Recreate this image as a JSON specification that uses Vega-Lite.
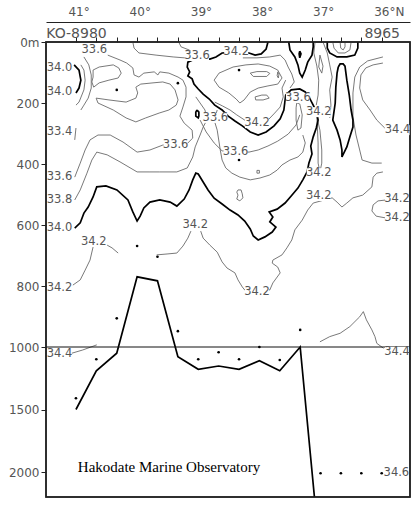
{
"$schema": "https://vega.github.io/schema/vega-lite/v6.json",
"width": 364, "height": 455,
"autosize": {"type": "none"},
"padding": {"left": 46, "top": 42, "right": 8, "bottom": 9},
"background": "white",
"config": {"view": {"stroke": "#222", "strokeWidth": 1.5}, "axis": {"labelFont": "DejaVu Sans", "labelFontSize": 12, "labelColor": "#555", "domainColor": "#222", "tickColor": "#222", "grid": false, "title": null}},
"resolve": {"axis": {"x": "independent"}},
"datasets": {
"thin": [
{"c":"T1","lat":41.02,"depth":443},{"c":"T1","lat":40.93,"depth":397},{"c":"T1","lat":40.85,"depth":354},{"c":"T1","lat":40.77,"depth":321},{"c":"T1","lat":40.64,"depth":305},{"c":"T1","lat":40.44,"depth":305},{"c":"T1","lat":40.23,"depth":328},{"c":"T1","lat":40.00,"depth":361},{"c":"T1","lat":39.79,"depth":354},{"c":"T1","lat":39.58,"depth":338},{"c":"T1","lat":39.17,"depth":331},{"c":"T1","lat":39.09,"depth":315},{"c":"T1","lat":39.10,"depth":289},{"c":"T1","lat":39.23,"depth":266},{"c":"T1","lat":39.30,"depth":243},{"c":"T1","lat":39.25,"depth":213},{"c":"T1","lat":39.20,"depth":180},{"c":"T1","lat":39.20,"depth":148},{"c":"T1","lat":39.25,"depth":125},{"c":"T1","lat":39.33,"depth":115},{"c":"T1","lat":39.48,"depth":102},{"c":"T1","lat":39.63,"depth":98},{"c":"T1","lat":39.66,"depth":108},{"c":"T1","lat":39.72,"depth":98},{"c":"T1","lat":39.89,"depth":102},{"c":"T1","lat":39.97,"depth":115},{"c":"T1","lat":40.05,"depth":108},{"c":"T1","lat":40.07,"depth":85},{"c":"T1","lat":40.17,"depth":69},{"c":"T1","lat":40.28,"depth":59},{"c":"T1","lat":40.48,"depth":43},
{"c":"T2","lat":41.02,"depth":518},{"c":"T2","lat":40.93,"depth":485},{"c":"T2","lat":40.82,"depth":430},{"c":"T2","lat":40.74,"depth":387},{"c":"T2","lat":40.66,"depth":361},{"c":"T2","lat":40.49,"depth":370},{"c":"T2","lat":40.28,"depth":393},{"c":"T2","lat":40.00,"depth":426},{"c":"T2","lat":39.79,"depth":426},{"c":"T2","lat":39.63,"depth":426},{"c":"T2","lat":39.35,"depth":426},{"c":"T2","lat":39.18,"depth":413},{"c":"T2","lat":39.09,"depth":377},{"c":"T2","lat":39.05,"depth":344},{"c":"T2","lat":38.97,"depth":305},{"c":"T2","lat":38.92,"depth":279},{"c":"T2","lat":38.86,"depth":256},{"c":"T2","lat":38.89,"depth":223},{"c":"T2","lat":38.97,"depth":200},{"c":"T2","lat":39.04,"depth":180},
{"c":"T3","lat":40.07,"depth":0},{"c":"T3","lat":40.05,"depth":20},{"c":"T3","lat":39.97,"depth":36},{"c":"T3","lat":39.69,"depth":43},{"c":"T3","lat":39.41,"depth":49},{"c":"T3","lat":39.22,"depth":52},
{"c":"T3b","lat":39.32,"depth":0},{"c":"T3b","lat":39.28,"depth":16},{"c":"T3b","lat":39.15,"depth":26},{"c":"T3b","lat":39.09,"depth":36},
{"c":"TL1","lat":40.72,"depth":92},{"c":"TL1","lat":40.62,"depth":82},{"c":"TL1","lat":40.39,"depth":75},{"c":"TL1","lat":40.30,"depth":85},{"c":"TL1","lat":40.26,"depth":102},{"c":"TL1","lat":40.31,"depth":118},{"c":"TL1","lat":40.46,"depth":125},{"c":"TL1","lat":40.62,"depth":134},{"c":"TL1","lat":40.71,"depth":148},{"c":"TL1","lat":40.74,"depth":131},{"c":"TL1","lat":40.72,"depth":115},{"c":"TL1","lat":40.72,"depth":92},
{"c":"TBR1","lat":40.92,"depth":75},{"c":"TBR1","lat":40.87,"depth":92},{"c":"TBR1","lat":40.85,"depth":125},{"c":"TBR1","lat":40.87,"depth":157},{"c":"TBR1","lat":40.95,"depth":197},{"c":"TBR1","lat":41.00,"depth":207},
{"c":"TBR2","lat":40.87,"depth":49},{"c":"TBR2","lat":40.79,"depth":75},{"c":"TBR2","lat":40.75,"depth":108},{"c":"TBR2","lat":40.75,"depth":151},{"c":"TBR2","lat":40.80,"depth":184},{"c":"TBR2","lat":40.87,"depth":207},{"c":"TBR2","lat":40.92,"depth":223},
{"c":"TBAND","lat":40.67,"depth":184},{"c":"TBAND","lat":40.46,"depth":190},{"c":"TBAND","lat":40.18,"depth":197},{"c":"TBAND","lat":40.02,"depth":184},{"c":"TBAND","lat":39.99,"depth":167},{"c":"TBAND","lat":40.02,"depth":148},{"c":"TBAND","lat":39.94,"depth":138},{"c":"TBAND","lat":39.74,"depth":134},{"c":"TBAND","lat":39.58,"depth":131},{"c":"TBAND","lat":39.46,"depth":138},{"c":"TBAND","lat":39.38,"depth":157},{"c":"TBAND","lat":39.33,"depth":190},{"c":"TBAND","lat":39.36,"depth":207},{"c":"TBAND","lat":39.48,"depth":223},{"c":"TBAND","lat":39.64,"depth":233},{"c":"TBAND","lat":39.86,"depth":249},{"c":"TBAND","lat":40.02,"depth":262},{"c":"TBAND","lat":40.18,"depth":249},{"c":"TBAND","lat":40.39,"depth":223},{"c":"TBAND","lat":40.64,"depth":200},{"c":"TBAND","lat":40.67,"depth":184},
{"c":"TDASH","lat":41.00,"depth":282},{"c":"TDASH","lat":41.02,"depth":321},
{"c":"T10","lat":38.27,"depth":52},{"c":"T10","lat":38.04,"depth":52},{"c":"T10","lat":37.83,"depth":49},{"c":"T10","lat":37.66,"depth":43},{"c":"T10","lat":37.58,"depth":59},{"c":"T10","lat":37.53,"depth":82},{"c":"T10","lat":37.47,"depth":105},{"c":"T10","lat":37.43,"depth":131},{"c":"T10","lat":37.50,"depth":151},
{"c":"T11","lat":38.22,"depth":75},{"c":"T11","lat":38.43,"depth":82},{"c":"T11","lat":38.66,"depth":102},{"c":"T11","lat":38.74,"depth":125},{"c":"T11","lat":38.66,"depth":148},{"c":"T11","lat":38.50,"depth":167},{"c":"T11","lat":38.38,"depth":187},{"c":"T11","lat":38.32,"depth":200},{"c":"T11","lat":38.25,"depth":190},{"c":"T11","lat":38.15,"depth":164},{"c":"T11","lat":38.02,"depth":151},{"c":"T11","lat":37.86,"depth":144},{"c":"T11","lat":37.70,"depth":138},{"c":"T11","lat":37.63,"depth":118},{"c":"T11","lat":37.70,"depth":92},{"c":"T11","lat":37.83,"depth":79},{"c":"T11","lat":38.02,"depth":72},{"c":"T11","lat":38.22,"depth":75},
{"c":"O1","lat":38.15,"depth":102},{"c":"O1","lat":38.04,"depth":97},{"c":"O1","lat":37.88,"depth":97},{"c":"O1","lat":37.83,"depth":103},{"c":"O1","lat":37.88,"depth":113},{"c":"O1","lat":38.10,"depth":113},{"c":"O1","lat":38.15,"depth":102},
{"c":"O2","lat":38.07,"depth":180},{"c":"O2","lat":37.96,"depth":174},{"c":"O2","lat":37.88,"depth":174},{"c":"O2","lat":37.84,"depth":184},{"c":"O2","lat":37.94,"depth":190},{"c":"O2","lat":38.06,"depth":190},{"c":"O2","lat":38.07,"depth":180},
{"c":"O0","lat":37.70,"depth":98},{"c":"O0","lat":37.68,"depth":105},{"c":"O0","lat":37.69,"depth":118},{"c":"O0","lat":37.71,"depth":111},{"c":"O0","lat":37.70,"depth":98},
{"c":"T12","lat":38.73,"depth":197},{"c":"T12","lat":38.60,"depth":210},{"c":"T12","lat":38.48,"depth":223},{"c":"T12","lat":38.37,"depth":239},{"c":"T12","lat":38.24,"depth":256},{"c":"T12","lat":37.86,"depth":256},{"c":"T12","lat":37.75,"depth":233},{"c":"T12","lat":37.66,"depth":213},{"c":"T12","lat":37.61,"depth":180},{"c":"T12","lat":37.63,"depth":151},{"c":"T12","lat":37.57,"depth":125},
{"c":"T13","lat":38.97,"depth":256},{"c":"T13","lat":38.87,"depth":295},{"c":"T13","lat":38.74,"depth":331},{"c":"T13","lat":38.61,"depth":357},{"c":"T13","lat":38.17,"depth":361},{"c":"T13","lat":38.02,"depth":354},{"c":"T13","lat":37.86,"depth":341},{"c":"T13","lat":37.70,"depth":325},{"c":"T13","lat":37.53,"depth":302},{"c":"T13","lat":37.40,"depth":272},{"c":"T13","lat":37.34,"depth":239},
{"c":"T14","lat":38.69,"depth":223},{"c":"T14","lat":38.74,"depth":256},{"c":"T14","lat":38.69,"depth":289},{"c":"T14","lat":38.64,"depth":354},{"c":"T14","lat":38.61,"depth":387},{"c":"T14","lat":38.55,"depth":413},{"c":"T14","lat":38.45,"depth":430},{"c":"T14","lat":38.32,"depth":443},{"c":"T14","lat":38.15,"depth":452},{"c":"T14","lat":37.99,"depth":446},{"c":"T14","lat":37.83,"depth":436},{"c":"T14","lat":37.71,"depth":420},{"c":"T14","lat":37.63,"depth":403},{"c":"T14","lat":37.50,"depth":387},{"c":"T14","lat":37.37,"depth":377},{"c":"T14","lat":37.29,"depth":361},{"c":"T14","lat":37.25,"depth":331},{"c":"T14","lat":37.29,"depth":305},
{"c":"SPIN","lat":37.06,"depth":246},{"c":"SPIN","lat":37.01,"depth":289},{"c":"SPIN","lat":36.98,"depth":354},{"c":"SPIN","lat":36.98,"depth":397},{"c":"SPIN","lat":37.01,"depth":426},{"c":"SPIN","lat":37.04,"depth":397},{"c":"SPIN","lat":37.04,"depth":331},{"c":"SPIN","lat":37.06,"depth":246},
{"c":"TEAR","lat":37.01,"depth":43},{"c":"TEAR","lat":36.96,"depth":79},{"c":"TEAR","lat":36.98,"depth":102},{"c":"TEAR","lat":37.03,"depth":82},{"c":"TEAR","lat":37.01,"depth":43},
{"c":"TV1","lat":37.09,"depth":0},{"c":"TV1","lat":37.11,"depth":36},{"c":"TV1","lat":37.06,"depth":79},{"c":"TV1","lat":37.03,"depth":125},{"c":"TV1","lat":37.04,"depth":174},{"c":"TV1","lat":37.07,"depth":207},
{"c":"TV2","lat":36.96,"depth":0},{"c":"TV2","lat":36.89,"depth":36},{"c":"TV2","lat":36.85,"depth":75},{"c":"TV2","lat":36.81,"depth":115},{"c":"TV2","lat":36.85,"depth":157},{"c":"TV2","lat":36.83,"depth":207},{"c":"TV2","lat":36.85,"depth":249},
{"c":"O3","lat":37.39,"depth":200},{"c":"O3","lat":37.34,"depth":203},{"c":"O3","lat":37.30,"depth":239},{"c":"O3","lat":37.32,"depth":282},{"c":"O3","lat":37.37,"depth":289},{"c":"O3","lat":37.40,"depth":256},{"c":"O3","lat":37.40,"depth":216},{"c":"O3","lat":37.39,"depth":200},
{"c":"R1","lat":35.98,"depth":49},{"c":"R1","lat":36.23,"depth":62},{"c":"R1","lat":36.36,"depth":82},{"c":"R1","lat":36.44,"depth":115},{"c":"R1","lat":36.47,"depth":167},{"c":"R1","lat":36.47,"depth":246},{"c":"R1","lat":36.42,"depth":305},{"c":"R1","lat":36.36,"depth":354},{"c":"R1","lat":36.32,"depth":387},{"c":"R1","lat":36.16,"depth":397},{"c":"R1","lat":36.00,"depth":397},
{"c":"R2","lat":35.98,"depth":69},{"c":"R2","lat":36.14,"depth":75},{"c":"R2","lat":36.26,"depth":85},{"c":"R2","lat":36.34,"depth":108},{"c":"R2","lat":36.36,"depth":151},{"c":"R2","lat":36.31,"depth":190},{"c":"R2","lat":36.19,"depth":223},{"c":"R2","lat":36.08,"depth":256},{"c":"R2","lat":35.95,"depth":282},
{"c":"UIN","lat":36.80,"depth":0},{"c":"UIN","lat":36.78,"depth":20},{"c":"UIN","lat":36.71,"depth":36},{"c":"UIN","lat":36.60,"depth":36},{"c":"UIN","lat":36.52,"depth":26},{"c":"UIN","lat":36.50,"depth":0},
{"c":"UT","lat":36.68,"depth":0},{"c":"UT","lat":36.67,"depth":20},{"c":"UT","lat":36.63,"depth":26},{"c":"UT","lat":36.60,"depth":16},{"c":"UT","lat":36.60,"depth":0},
{"c":"T6","lat":35.93,"depth":518},{"c":"T6","lat":36.06,"depth":521},{"c":"T6","lat":36.14,"depth":534},{"c":"T6","lat":36.16,"depth":554},{"c":"T6","lat":36.09,"depth":571},{"c":"T6","lat":35.93,"depth":577},
{"c":"T4L","lat":39.12,"depth":620},{"c":"T4L","lat":39.17,"depth":643},{"c":"T4L","lat":39.25,"depth":669},{"c":"T4L","lat":39.35,"depth":692},{"c":"T4L","lat":39.51,"depth":695},{"c":"T4L","lat":39.68,"depth":698},
{"c":"T4R","lat":38.96,"depth":620},{"c":"T4R","lat":38.92,"depth":643},{"c":"T4R","lat":38.81,"depth":666},{"c":"T4R","lat":38.69,"depth":689},{"c":"T4R","lat":38.61,"depth":721},{"c":"T4R","lat":38.53,"depth":741},{"c":"T4R","lat":38.40,"depth":757},{"c":"T4R","lat":38.35,"depth":780},{"c":"T4R","lat":38.28,"depth":803},{"c":"T4R","lat":38.24,"depth":813},{"c":"T4R","lat":37.83,"depth":813},{"c":"T4R","lat":37.78,"depth":790},{"c":"T4R","lat":37.66,"depth":757},{"c":"T4R","lat":37.70,"depth":738},{"c":"T4R","lat":37.79,"depth":725},{"c":"T4R","lat":37.78,"depth":715},{"c":"T4R","lat":37.63,"depth":698},{"c":"T4R","lat":37.55,"depth":675},{"c":"T4R","lat":37.47,"depth":649},{"c":"T4R","lat":37.42,"depth":616},{"c":"T4R","lat":37.30,"depth":584},{"c":"T4R","lat":37.21,"depth":551},{"c":"T4R","lat":37.12,"depth":528},{"c":"T4R","lat":36.81,"depth":511},{"c":"T4R","lat":36.73,"depth":525},{"c":"T4R","lat":36.65,"depth":541},{"c":"T4R","lat":36.57,"depth":528},{"c":"T4R","lat":36.47,"depth":511},{"c":"T4R","lat":36.31,"depth":502},{"c":"T4R","lat":36.16,"depth":475},{"c":"T4R","lat":36.14,"depth":443},{"c":"T4R","lat":36.08,"depth":430},{"c":"T4R","lat":35.98,"depth":426},
{"c":"T5R","lat":40.49,"depth":666},{"c":"T5R","lat":40.41,"depth":675},{"c":"T5R","lat":40.31,"depth":692},
{"c":"T5L","lat":40.72,"depth":672},{"c":"T5L","lat":40.77,"depth":715},{"c":"T5L","lat":40.85,"depth":748},{"c":"T5L","lat":40.93,"depth":780},{"c":"T5L","lat":41.05,"depth":797},
{"c":"T17","lat":37.01,"depth":983},{"c":"T17","lat":36.85,"depth":966},{"c":"T17","lat":36.68,"depth":955},{"c":"T17","lat":36.52,"depth":933},{"c":"T17","lat":36.36,"depth":901},{"c":"T17","lat":36.30,"depth":884},{"c":"T17","lat":36.25,"depth":911},{"c":"T17","lat":36.16,"depth":944},{"c":"T17","lat":36.11,"depth":966},{"c":"T17","lat":36.08,"depth":988},{"c":"T17","lat":35.97,"depth":1010},
{"c":"T18","lat":41.07,"depth":1050},{"c":"T18","lat":40.89,"depth":1024},{"c":"T18","lat":40.66,"depth":993},
{"c":"CIRC","lat":38.04,"depth":421},{"c":"CIRC","lat":38.00,"depth":421},{"c":"CIRC","lat":38.00,"depth":430},{"c":"CIRC","lat":38.04,"depth":430},{"c":"CIRC","lat":38.04,"depth":421},
{"c":"EIGHT","lat":38.35,"depth":485},{"c":"EIGHT","lat":38.30,"depth":485},{"c":"EIGHT","lat":38.28,"depth":498},{"c":"EIGHT","lat":38.27,"depth":511},{"c":"EIGHT","lat":38.32,"depth":521},{"c":"EIGHT","lat":38.37,"depth":515},{"c":"EIGHT","lat":38.35,"depth":502},{"c":"EIGHT","lat":38.37,"depth":492},{"c":"EIGHT","lat":38.35,"depth":485}
],
"bold": [
{"c":"B1","lat":37.86,"depth":0},{"c":"B1","lat":37.89,"depth":23},{"c":"B1","lat":37.97,"depth":39},{"c":"B1","lat":38.07,"depth":43},{"c":"B1","lat":38.17,"depth":36},{"c":"B1","lat":38.38,"depth":33},{"c":"B1","lat":38.61,"depth":36},{"c":"B1","lat":38.71,"depth":49},{"c":"B1","lat":38.81,"depth":56},{"c":"B1","lat":39.02,"depth":52},{"c":"B1","lat":39.17,"depth":66},{"c":"B1","lat":39.18,"depth":82},{"c":"B1","lat":39.14,"depth":98},{"c":"B1","lat":39.17,"depth":111},{"c":"B1","lat":39.10,"depth":121},{"c":"B1","lat":39.07,"depth":138},{"c":"B1","lat":39.00,"depth":154},{"c":"B1","lat":38.92,"depth":171},{"c":"B1","lat":38.82,"depth":187},{"c":"B1","lat":38.73,"depth":207},{"c":"B1","lat":38.61,"depth":223},{"c":"B1","lat":38.51,"depth":243},{"c":"B1","lat":38.40,"depth":259},{"c":"B1","lat":38.28,"depth":275},{"c":"B1","lat":38.15,"depth":295},{"c":"B1","lat":38.02,"depth":305},{"c":"B1","lat":37.89,"depth":295},{"c":"B1","lat":37.76,"depth":275},{"c":"B1","lat":37.66,"depth":252},{"c":"B1","lat":37.60,"depth":223},{"c":"B1","lat":37.57,"depth":174},{"c":"B1","lat":37.48,"depth":157},{"c":"B1","lat":37.34,"depth":154},{"c":"B1","lat":37.25,"depth":164},{"c":"B1","lat":37.19,"depth":180},{"c":"B1","lat":37.12,"depth":207},{"c":"B1","lat":37.06,"depth":233},{"c":"B1","lat":37.04,"depth":256},{"c":"B1","lat":37.07,"depth":282},{"c":"B1","lat":37.12,"depth":311},{"c":"B1","lat":37.16,"depth":341},{"c":"B1","lat":37.14,"depth":367},{"c":"B1","lat":37.19,"depth":397},{"c":"B1","lat":37.22,"depth":426},{"c":"B1","lat":37.29,"depth":452},{"c":"B1","lat":37.37,"depth":479},{"c":"B1","lat":37.48,"depth":505},{"c":"B1","lat":37.58,"depth":528},{"c":"B1","lat":37.71,"depth":548},{"c":"B1","lat":37.84,"depth":557},{"c":"B1","lat":37.78,"depth":574},{"c":"B1","lat":37.83,"depth":590},{"c":"B1","lat":37.73,"depth":607},{"c":"B1","lat":37.79,"depth":623},{"c":"B1","lat":37.91,"depth":639},{"c":"B1","lat":38.02,"depth":649},{"c":"B1","lat":38.10,"depth":636},{"c":"B1","lat":38.15,"depth":613},{"c":"B1","lat":38.24,"depth":587},{"c":"B1","lat":38.35,"depth":567},{"c":"B1","lat":38.48,"depth":551},{"c":"B1","lat":38.61,"depth":531},{"c":"B1","lat":38.74,"depth":512},{"c":"B1","lat":38.84,"depth":485},{"c":"B1","lat":38.92,"depth":459},{"c":"B1","lat":39.00,"depth":433},{"c":"B1","lat":39.04,"depth":430},{"c":"B1","lat":39.09,"depth":452},{"c":"B1","lat":39.15,"depth":485},{"c":"B1","lat":39.23,"depth":515},{"c":"B1","lat":39.35,"depth":538},{"c":"B1","lat":39.46,"depth":525},{"c":"B1","lat":39.63,"depth":518},{"c":"B1","lat":39.79,"depth":525},{"c":"B1","lat":39.89,"depth":544},{"c":"B1","lat":39.95,"depth":571},{"c":"B1","lat":40.00,"depth":587},{"c":"B1","lat":40.07,"depth":557},{"c":"B1","lat":40.15,"depth":518},{"c":"B1","lat":40.33,"depth":485},{"c":"B1","lat":40.51,"depth":472},{"c":"B1","lat":40.66,"depth":475},{"c":"B1","lat":40.72,"depth":508},{"c":"B1","lat":40.80,"depth":541},{"c":"B1","lat":40.87,"depth":561},{"c":"B1","lat":40.90,"depth":577},{"c":"B1","lat":40.93,"depth":593},{"c":"B1","lat":41.02,"depth":610},
{"c":"B2","lat":41.03,"depth":75},{"c":"B2","lat":40.95,"depth":92},{"c":"B2","lat":40.92,"depth":125},{"c":"B2","lat":40.95,"depth":151},{"c":"B2","lat":41.00,"depth":167},
{"c":"B3","lat":37.52,"depth":0},{"c":"B3","lat":37.50,"depth":26},{"c":"B3","lat":37.42,"depth":49},{"c":"B3","lat":37.37,"depth":75},{"c":"B3","lat":37.34,"depth":102},{"c":"B3","lat":37.30,"depth":115},{"c":"B3","lat":37.25,"depth":92},{"c":"B3","lat":37.21,"depth":66},{"c":"B3","lat":37.14,"depth":43},{"c":"B3","lat":37.12,"depth":16},{"c":"B3","lat":37.12,"depth":0},
{"c":"B4","lat":36.89,"depth":0},{"c":"B4","lat":36.89,"depth":20},{"c":"B4","lat":36.85,"depth":36},{"c":"B4","lat":36.73,"depth":49},{"c":"B4","lat":36.57,"depth":49},{"c":"B4","lat":36.44,"depth":43},{"c":"B4","lat":36.39,"depth":20},{"c":"B4","lat":36.39,"depth":0},
{"c":"B5","lat":36.71,"depth":82},{"c":"B5","lat":36.73,"depth":102},{"c":"B5","lat":36.75,"depth":148},{"c":"B5","lat":36.76,"depth":200},{"c":"B5","lat":36.80,"depth":256},{"c":"B5","lat":36.73,"depth":289},{"c":"B5","lat":36.68,"depth":321},{"c":"B5","lat":36.65,"depth":354},{"c":"B5","lat":36.65,"depth":377},{"c":"B5","lat":36.57,"depth":344},{"c":"B5","lat":36.52,"depth":311},{"c":"B5","lat":36.47,"depth":279},{"c":"B5","lat":36.47,"depth":256},{"c":"B5","lat":36.50,"depth":223},{"c":"B5","lat":36.53,"depth":174},{"c":"B5","lat":36.57,"depth":125},{"c":"B5","lat":36.60,"depth":79},{"c":"B5","lat":36.63,"depth":72},{"c":"B5","lat":36.68,"depth":72},{"c":"B5","lat":36.71,"depth":82},
{"c":"BOV1","lat":39.02,"depth":223},{"c":"BOV1","lat":38.99,"depth":230},{"c":"BOV1","lat":38.99,"depth":243},{"c":"BOV1","lat":39.00,"depth":249},{"c":"BOV1","lat":39.04,"depth":243},{"c":"BOV1","lat":39.04,"depth":230},{"c":"BOV1","lat":39.02,"depth":223},
{"c":"BOV2","lat":37.34,"depth":30},{"c":"BOV2","lat":37.32,"depth":39},{"c":"BOV2","lat":37.34,"depth":52},{"c":"BOV2","lat":37.35,"depth":39},{"c":"BOV2","lat":37.34,"depth":30},
{"c":"TOPO","lat":41.0,"depth":1500},{"c":"TOPO","lat":40.667,"depth":1190},{"c":"TOPO","lat":40.333,"depth":1050},{"c":"TOPO","lat":40.0,"depth":770},{"c":"TOPO","lat":39.667,"depth":783},{"c":"TOPO","lat":39.333,"depth":1078},{"c":"TOPO","lat":39.0,"depth":1178},{"c":"TOPO","lat":38.667,"depth":1152},{"c":"TOPO","lat":38.333,"depth":1178},{"c":"TOPO","lat":38.0,"depth":1110},{"c":"TOPO","lat":37.667,"depth":1190},{"c":"TOPO","lat":37.333,"depth":1000},{"c":"TOPO","lat":37.10,"depth":2200}
],
"dots": [
{"lat":40.0,"depth":669},{"lat":39.667,"depth":704},{"lat":40.333,"depth":906},{"lat":39.333,"depth":948},{"lat":37.333,"depth":944},{"lat":38.0,"depth":1000},{"lat":40.667,"depth":1098},{"lat":41.0,"depth":1410},{"lat":39.0,"depth":1098},{"lat":38.667,"depth":1042},{"lat":38.333,"depth":1098},{"lat":37.667,"depth":1104},{"lat":37.0,"depth":2010},{"lat":36.667,"depth":2010},{"lat":36.333,"depth":2010},{"lat":36.0,"depth":2010},{"lat":40.333,"depth":157},{"lat":39.333,"depth":135},{"lat":38.333,"depth":92},{"lat":38.333,"depth":387}
],
"labels": [
{"t":"33.6","lat":40.70,"depth":26},{"t":"33.6","lat":39.02,"depth":46},{"t":"34.2","lat":38.38,"depth":33},{"t":"34.0","lat":41.27,"depth":85},{"t":"34.0","lat":41.27,"depth":164},{"t":"33.6","lat":38.72,"depth":249},{"t":"33.6","lat":37.37,"depth":184},{"t":"34.2","lat":37.03,"depth":230},{"t":"34.2","lat":38.04,"depth":266},{"t":"34.4","lat":35.74,"depth":289},{"t":"33.4","lat":41.27,"depth":295},{"t":"33.6","lat":39.37,"depth":338},{"t":"33.6","lat":38.39,"depth":361},{"t":"33.6","lat":41.27,"depth":443},{"t":"34.2","lat":37.03,"depth":430},{"t":"33.8","lat":41.27,"depth":518},{"t":"34.2","lat":37.03,"depth":505},{"t":"34.2","lat":35.75,"depth":515},{"t":"34.2","lat":35.75,"depth":577},{"t":"34.0","lat":41.27,"depth":610},{"t":"34.2","lat":39.05,"depth":600},{"t":"34.2","lat":40.71,"depth":656},{"t":"34.2","lat":41.27,"depth":807},{"t":"34.2","lat":38.04,"depth":820},{"t":"34.4","lat":41.27,"depth":1056},{"t":"34.4","lat":35.75,"depth":1040},{"t":"34.6","lat":35.76,"depth":2010}
]
},
"layer": [
{"data": {"name": "thin"}, "mark": {"type": "line", "color": "#6a6a6a", "strokeWidth": 0.9, "clip": true},
 "encoding": {"x": {"field": "lat", "type": "quantitative", "scale": {"domain": [41.49, 35.537], "zero": false, "nice": false}, "axis": null},
  "y": {"field": "depth", "type": "quantitative", "scale": {"domain": [0, 1000, 2200], "range": [0, 305, 455], "zero": false, "nice": false},
   "axis": {"values": [0, 200, 400, 600, 800, 1000, 1500, 2000], "labelExpr": "datum.value == 0 ? '0m' : '' + datum.value", "domain": false, "ticks": true, "tickSize": 5, "labelPadding": 2, "labelFlush": false, "labelOverlap": false, "title": null, "grid": false}},
  "detail": {"field": "c"}, "order": {"value": null}}},
{"data": {"name": "bold"}, "mark": {"type": "line", "color": "#000", "strokeWidth": 1.7, "clip": true},
 "encoding": {"x": {"field": "lat", "type": "quantitative", "scale": {"domain": [41.49, 35.537], "zero": false, "nice": false},
   "axis": {"orient": "top", "offset": 0, "values": [41, 40.6667, 40.3333, 40, 39.6667, 39.3333, 39, 38.6667, 38.3333, 38, 37.6667, 37.3333, 37.14, 37, 36.6667, 36.3333, 36], "domain": false, "ticks": true, "tickSize": 5, "labelExpr": "datum.value == 41 ? 'KO-8980' : (datum.value == 36 ? '8965' : '')", "labelOverlap": false, "labelFlush": false, "labelBound": false, "labelPadding": 0, "labelBaseline": "alphabetic", "labelFontSize": 14, "title": null, "grid": false}},
  "y": {"field": "depth", "type": "quantitative", "scale": {"domain": [0, 1000, 2200], "range": [0, 305, 455], "zero": false, "nice": false}},
  "detail": {"field": "c"}, "order": {"value": null}}},
{"data": {"values": [{"lat1": 41.49, "lat2": 35.537, "depth": 1000}]}, "mark": {"type": "rule", "color": "#111", "strokeWidth": 1},
 "encoding": {"x": {"field": "lat1", "type": "quantitative", "scale": {"domain": [41.49, 35.537], "zero": false, "nice": false}, "axis": null},
  "x2": {"field": "lat2"},
  "y": {"field": "depth", "type": "quantitative", "scale": {"domain": [0, 1000, 2200], "range": [0, 305, 455], "zero": false, "nice": false}}}},
{"data": {"values": [{"lat1": 41.49, "lat2": 35.537, "d1": 0, "d2": 2200}]}, "mark": {"type": "rect", "fill": null, "filled": false, "stroke": "#222", "strokeWidth": 1.5},
 "encoding": {"x": {"field": "lat1", "type": "quantitative", "scale": {"domain": [41.49, 35.537], "zero": false, "nice": false}, "axis": null},
  "x2": {"field": "lat2"},
  "y": {"field": "d1", "type": "quantitative", "scale": {"domain": [0, 1000, 2200], "range": [0, 305, 455], "zero": false, "nice": false}},
  "y2": {"field": "d2"}}},
{"data": {"name": "dots"}, "mark": {"type": "point", "filled": true, "color": "#000", "size": 7, "opacity": 1},
 "encoding": {"x": {"field": "lat", "type": "quantitative", "scale": {"domain": [41.49, 35.537], "zero": false, "nice": false},
   "axis": {"orient": "top", "offset": 20, "values": [41, 40, 39, 38, 37, 36], "ticks": false, "domainColor": "#222", "labelExpr": "datum.value == 36 ? '36°N' : datum.value + '°'", "labelAlign": "left", "labelOffset": -8, "labelPadding": 4, "labelFlush": false, "labelOverlap": false, "labelFontSize": 12, "title": null, "grid": false}},
  "y": {"field": "depth", "type": "quantitative", "scale": {"domain": [0, 1000, 2200], "range": [0, 305, 455], "zero": false, "nice": false}}}},
{"data": {"name": "labels"}, "mark": {"type": "point", "shape": "M-1.2,-0.5L1.2,-0.5L1.2,0.5L-1.2,0.5Z", "size": 400, "filled": true, "color": "white", "opacity": 1, "strokeWidth": 0},
 "encoding": {"x": {"field": "lat", "type": "quantitative", "scale": {"domain": [41.49, 35.537], "zero": false, "nice": false}, "axis": null},
  "y": {"field": "depth", "type": "quantitative", "scale": {"domain": [0, 1000, 2200], "range": [0, 305, 455], "zero": false, "nice": false}}}},
{"data": {"name": "labels"}, "mark": {"type": "text", "font": "DejaVu Sans", "fontSize": 11.5, "color": "#555", "align": "center", "baseline": "middle"},
 "encoding": {"x": {"field": "lat", "type": "quantitative", "scale": {"domain": [41.49, 35.537], "zero": false, "nice": false}, "axis": null},
  "y": {"field": "depth", "type": "quantitative", "scale": {"domain": [0, 1000, 2200], "range": [0, 305, 455], "zero": false, "nice": false}},
  "text": {"field": "t"}}},
{"data": {"values": [{"t": "Hakodate Marine Observatory", "lat": 40.97, "depth": 2000}]}, "mark": {"type": "text", "font": "Liberation Serif", "fontSize": 15, "color": "#000", "align": "left", "baseline": "alphabetic"},
 "encoding": {"x": {"field": "lat", "type": "quantitative", "scale": {"domain": [41.49, 35.537], "zero": false, "nice": false}, "axis": null},
  "y": {"field": "depth", "type": "quantitative", "scale": {"domain": [0, 1000, 2200], "range": [0, 305, 455], "zero": false, "nice": false}},
  "text": {"field": "t"}}}
]
}
